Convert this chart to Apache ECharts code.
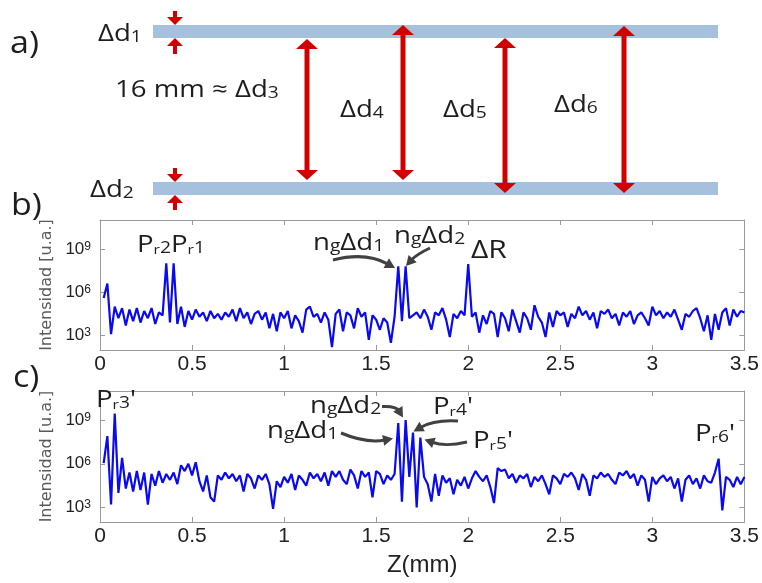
<!DOCTYPE html>
<html><head><meta charset="utf-8">
<script src="https://cdn.jsdelivr.net/npm/echarts@6/dist/echarts.min.js"></script>
<style>html,body{margin:0;padding:0;background:#fff}#c{width:762px;height:583px}</style>
</head><body><div id="c"></div>
<script>
// ---------- data (Z sampled every 0.02 mm starting at 0.02 mm) ----------
const Z_START = 0.02;
const Z_STEP = 0.02;
// log10 of intensity [u.a.], panel b)
const intensityB = [
 5.6, 6.6, 3.1, 5.0, 4.2, 4.9, 3.7, 4.8, 4.0, 4.9,
 3.9, 4.7, 4.2, 4.9, 3.8, 4.6, 4.4, 8.0, 3.9, 8.0,
 3.8, 5.0, 3.6, 4.7, 4.1, 4.8, 4.3, 4.6, 4.0, 4.7,
 4.2, 4.5, 4.1, 4.6, 4.3, 4.8, 4.0, 4.9, 4.2, 4.6,
 3.8, 4.5, 4.7, 4.1, 4.6, 3.5, 4.5, 3.3, 4.6, 4.2,
 4.7, 3.5, 4.4, 4.0, 3.2, 4.8, 5.0, 4.3, 4.5, 3.9,
 4.6, 4.1, 2.2, 4.5, 4.8, 3.3, 4.6, 4.4, 3.5, 4.9,
 4.3, 4.6, 2.7, 4.4, 4.1, 3.4, 4.2, 3.9, 2.5, 4.3,
 7.8, 4.0, 7.8, 4.2, 4.4, 4.6, 4.2, 4.8, 4.3, 3.4,
 4.6, 4.4, 4.9, 4.1, 2.9, 4.5, 4.2, 4.7, 4.4, 7.95,
 4.3, 4.6, 3.2, 4.4, 3.8, 4.7, 4.5, 2.9, 4.6, 4.2,
 3.3, 4.8, 4.0, 3.2, 4.6, 4.2, 3.4, 5.1, 4.3, 3.9,
 2.9, 4.6, 3.6, 4.7, 4.4, 4.6, 3.6, 4.5, 4.2, 5.0,
 4.4, 4.7, 4.1, 4.6, 3.5, 4.7, 4.5, 4.8, 4.2, 4.5,
 3.7, 4.6, 4.3, 4.7, 3.8, 4.4, 4.6, 4.2, 3.7, 5.0,
 4.4, 4.7, 4.2, 4.6, 4.3, 4.8, 4.1, 3.4, 4.5, 4.3,
 4.7, 4.9, 4.2, 3.3, 4.4, 2.7, 4.5, 3.4, 4.6, 4.9,
 3.7, 4.8, 4.3, 4.7, 4.6
];
// log10 of intensity [u.a.], panel c)
const intensityC = [
 6.05, 7.9, 3.2, 9.45, 4.0, 6.4, 4.3, 5.4, 4.1, 5.5,
 4.2, 5.4, 3.2, 5.3, 4.5, 5.5, 4.7, 5.3, 4.9, 5.4,
 4.6, 5.9, 5.5, 6.0, 5.2, 6.1, 4.8, 4.1, 5.2, 3.7,
 3.4, 5.2, 4.9, 5.4, 5.0, 5.3, 4.8, 5.2, 4.1, 5.3,
 5.0, 4.3, 5.2, 4.9, 5.3, 4.6, 2.9, 4.8, 4.4, 5.1,
 4.7, 5.3, 4.2, 5.2, 4.9, 4.5, 5.4, 5.0, 5.3, 4.8,
 5.4, 4.5, 5.5, 5.1, 5.5, 4.9, 4.6, 5.6, 5.2, 4.3,
 5.5, 5.1, 5.4, 3.7, 5.5, 5.3, 4.6, 5.2, 4.9, 5.3,
 8.8, 3.4, 9.0, 5.1, 8.15, 3.0, 7.8, 5.1, 4.6, 3.4,
 5.3, 3.8, 5.2, 4.7, 5.0, 3.9, 4.9, 4.5, 5.1, 4.3,
 5.0, 5.5, 5.1, 4.8, 5.2, 4.4, 3.3, 5.7, 5.5, 5.6,
 5.0, 5.3, 4.7, 5.2, 5.0, 5.3, 4.4, 5.1, 4.8, 5.2,
 4.6, 3.9, 5.2, 5.0, 4.6, 5.3, 5.1, 5.4, 5.0, 4.2,
 5.3, 4.9, 3.8, 5.2, 5.0, 5.4, 5.1, 5.3, 4.9, 4.6,
 5.4, 5.2, 5.5, 5.0, 5.3, 4.5, 5.2, 4.9, 3.4, 5.1,
 4.6, 5.0, 5.2, 4.8, 5.1, 4.3, 5.0, 3.4, 4.9, 5.2,
 4.6, 5.0, 4.3, 5.2, 4.8, 4.7, 5.4, 6.35, 2.8, 5.1,
 4.9, 4.4, 5.1, 4.6, 5.1
];
const yTickExponents = [3, 6, 9];
const xTickStep = 0.5;

// ---------- schematic a) and call-out arrows (overlay, page units) ----------
const plates = [[153, 718, 31.5], [153, 718, 188.5]];           // [xStart, xEnd, y]
const gapArrows = [[307, 39, 180], [403, 25, 180], [505, 38, 193], [624, 26, 193]]; // [x, yTop, yBottom]
const edgeArrows = [[175, 11, 25], [175, 53, 38], [175, 168, 182], [175, 209, 195]]; // [x, yFrom, yTip]
const callouts = [ // [xTail, yTail, xTip, yTip, curveness]
  [333, 260, 395, 268, 0.2],
  [430, 248, 406, 266, -0.1],
  [382, 406.5, 403, 417.5, 0.3],
  [341, 433, 393, 438.5, -0.15],
  [458, 421, 413.5, 431.5, -0.15],
  [467, 442, 424.5, 439.5, 0.15]
];

// ---------- styles ----------
const BLUE = '#0a0af0', AXIS_C = '#9a9a9a', INK = '#1e1e1e', RED = '#d00000', PLATE = '#a6c1dd', GREY = '#414141';
const FF = "'Open Sans', sans-serif";
const TICKF = "'Liberation Sans', Arial, sans-serif";

const toSeries = arr => arr.map((v, i) => [+(Z_START + i * Z_STEP).toFixed(2), v]);

function xAx(grid, pos, labels, extra) {
  return Object.assign({
    type: 'value', gridIndex: grid, position: pos, min: 0, max: 3.5, interval: xTickStep,
    axisLine: { show: true, onZero: false, lineStyle: { color: AXIS_C, width: 1 } },
    axisTick: { show: true, inside: true, length: 5, lineStyle: { color: AXIS_C } },
    axisLabel: { show: labels, margin: 4, fontSize: 21, fontFamily: TICKF, color: '#222' },
    splitLine: { show: false }
  }, extra || {});
}
function yAx(grid, pos, labels, extra) {
  return Object.assign({
    type: 'value', gridIndex: grid, position: pos, min: 2, max: 11,
    axisLine: { show: true, onZero: false, lineStyle: { color: AXIS_C, width: 1 } },
    axisTick: { show: true, inside: true, length: 5, customValues: yTickExponents, lineStyle: { color: AXIS_C } },
    axisLabel: {
      show: labels, customValues: yTickExponents, margin: 9,
      formatter: v => '{b|10}{s|' + v + '}',
      rich: {
        b: { fontSize: 17, fontFamily: TICKF, color: '#222' },
        s: { fontSize: 12, fontFamily: TICKF, color: '#222', verticalAlign: 'top' }
      }
    },
    splitLine: { show: false }
  }, extra || {});
}
const yName = {
  name: 'Intensidad [u.a.]', nameLocation: 'middle', nameGap: 36, nameRotate: 90,
  nameTextStyle: { fontFamily: "'DejaVu Sans', sans-serif", fontSize: 16, color: '#5a5a5a' }
};

const RICH = {
  big: { fontSize: 31, fontFamily: FF, fill: INK },
  m: { fontSize: 23, fontFamily: FF, fill: INK, verticalAlign: 'bottom' },
  s: { fontSize: 16, fontFamily: FF, fill: INK, verticalAlign: 'bottom' },
  r: { fontSize: 13, fontFamily: FF, fill: INK, verticalAlign: 'bottom' },
  R: { fontSize: 25, fontFamily: FF, fill: INK, verticalAlign: 'bottom' }
};
function label(x, y, text, sx) {
  return { type: 'text', x: x, y: y, scaleX: sx || 1.2, silent: true, z: 100,
    style: { text: text, rich: RICH, fontFamily: FF, fontSize: 23, fill: INK, align: 'left', verticalAlign: 'middle' } };
}
const texts = [
  label(10, 44, '{big|a)}', 1.1),
  label(11, 206, '{big|b)}', 1.1),
  label(13, 378, '{big|c)}', 1.1),
  label(98, 34, '{m|Δd}{s|1}'),
  label(90, 190, '{m|Δd}{s|2}'),
  label(115, 90, '{m|16 mm ≈ Δd}{s|3}'),
  label(340, 110, '{m|Δd}{s|4}'),
  label(443, 110, '{m|Δd}{s|5}'),
  label(554, 105, '{m|Δd}{s|6}'),
  label(137, 245, '{m|P}{r|r}{s|2}{m|P}{r|r}{s|1}'),
  label(313, 243, '{m|n}{s|g}{m|Δd}{s|1}'),
  label(394, 236, '{m|n}{s|g}{m|Δd}{s|2}'),
  label(471, 251, '{R|ΔR}'),
  label(96, 400, "{m|P}{r|r}{s|3}{m|'}"),
  label(310, 406, '{m|n}{s|g}{m|Δd}{s|2}'),
  label(267, 431, '{m|n}{s|g}{m|Δd}{s|1}'),
  label(433, 407, "{m|P}{r|r}{s|4}{m|'}"),
  label(473, 441, "{m|P}{r|r}{s|5}{m|'}"),
  label(695, 434, "{m|P}{r|r}{s|6}{m|'}")
];

const option = {
  animation: false,
  backgroundColor: '#fff',
  grid: [
    { left: 100, top: 220, width: 647, height: 130 },
    { left: 100, top: 391, width: 647, height: 131 },
    { left: 0, top: 0, width: 762, height: 583 }
  ],
  xAxis: [
    xAx(0, 'bottom', true),
    xAx(0, 'top', false),
    xAx(1, 'bottom', true, { name: 'Z(mm)', nameLocation: 'middle', nameGap: 31,
      nameTextStyle: { fontSize: 24, fontFamily: TICKF, color: '#222' } }),
    xAx(1, 'top', false),
    { type: 'value', gridIndex: 2, min: 0, max: 762, show: false }
  ],
  yAxis: [
    yAx(0, 'left', true, yName),
    yAx(0, 'right', false),
    yAx(1, 'left', true, yName),
    yAx(1, 'right', false),
    { type: 'value', gridIndex: 2, min: 0, max: 583, inverse: true, show: false }
  ],
  series: [
    { type: 'line', xAxisIndex: 0, yAxisIndex: 0, data: toSeries(intensityB), showSymbol: false,
      lineStyle: { color: BLUE, width: 2.2 }, itemStyle: { color: BLUE }, silent: true },
    { type: 'line', xAxisIndex: 2, yAxisIndex: 2, data: toSeries(intensityC), showSymbol: false,
      lineStyle: { color: BLUE, width: 2.2 }, itemStyle: { color: BLUE }, silent: true },
    { type: 'custom', xAxisIndex: 4, yAxisIndex: 4, data: plates, silent: true, z: 3,
      renderItem: (p, api) => {
        const a = api.coord([api.value(0), api.value(2)]);
        const b = api.coord([api.value(1), api.value(2)]);
        return { type: 'rect', shape: { x: a[0], y: a[1] - 6.5, width: b[0] - a[0], height: 13 }, style: { fill: PLATE } };
      }
    },
    { type: 'custom', xAxisIndex: 4, yAxisIndex: 4, data: gapArrows, silent: true, z: 4,
      renderItem: (p, api) => {
        const t = api.coord([api.value(0), api.value(1)]);
        const b = api.coord([api.value(0), api.value(2)]);
        const x = t[0], HW = 11, HH = 10, SW = 5;
        return { type: 'group', children: [
          { type: 'rect', shape: { x: x - SW / 2, y: t[1] + HH - 1, width: SW, height: b[1] - t[1] - 2 * HH + 2 }, style: { fill: RED } },
          { type: 'polygon', shape: { points: [[x, t[1]], [x - HW, t[1] + HH], [x + HW, t[1] + HH]] }, style: { fill: RED } },
          { type: 'polygon', shape: { points: [[x, b[1]], [x - HW, b[1] - HH], [x + HW, b[1] - HH]] }, style: { fill: RED } }
        ] };
      }
    },
    { type: 'custom', xAxisIndex: 4, yAxisIndex: 4, data: edgeArrows, silent: true, z: 4,
      renderItem: (p, api) => {
        const f = api.coord([api.value(0), api.value(1)]);
        const t = api.coord([api.value(0), api.value(2)]);
        const x = f[0], HW = 8, HH = 8, SW = 4;
        const dir = t[1] > f[1] ? 1 : -1;
        const base = t[1] - dir * HH;
        return { type: 'group', children: [
          { type: 'rect', shape: { x: x - SW / 2, y: Math.min(f[1], base), width: SW, height: Math.abs(base - f[1]) + 1 }, style: { fill: RED } },
          { type: 'polygon', shape: { points: [[x, t[1]], [x - HW, base], [x + HW, base]] }, style: { fill: RED } }
        ] };
      }
    },
    { type: 'custom', xAxisIndex: 4, yAxisIndex: 4, data: callouts, silent: true, z: 5,
      renderItem: (p, api) => {
        const a = api.coord([api.value(0), api.value(1)]);
        const b = api.coord([api.value(2), api.value(3)]);
        const c = api.value(4);
        const cp = [(a[0] + b[0]) / 2 - (a[1] - b[1]) * c, (a[1] + b[1]) / 2 - (b[0] - a[0]) * c];
        let dx = b[0] - cp[0], dy = b[1] - cp[1];
        const L = Math.hypot(dx, dy); dx /= L; dy /= L;
        const HL = 10, HW = 5.5;
        const base = [b[0] - dx * HL, b[1] - dy * HL];
        const end = [b[0] - dx * (HL - 2), b[1] - dy * (HL - 2)];
        return { type: 'group', children: [
          { type: 'bezierCurve', shape: { x1: a[0], y1: a[1], x2: end[0], y2: end[1], cpx1: cp[0], cpy1: cp[1] },
            style: { stroke: GREY, lineWidth: 3, fill: null } },
          { type: 'polygon', shape: { points: [b, [base[0] - dy * HW, base[1] + dx * HW], [base[0] + dy * HW, base[1] - dx * HW]] },
            style: { fill: GREY } }
        ] };
      }
    }
  ],
  graphic: texts
};
const chart = echarts.init(document.getElementById('c'), null, { renderer: 'canvas' });
chart.setOption(option);
</script>
</body></html>
